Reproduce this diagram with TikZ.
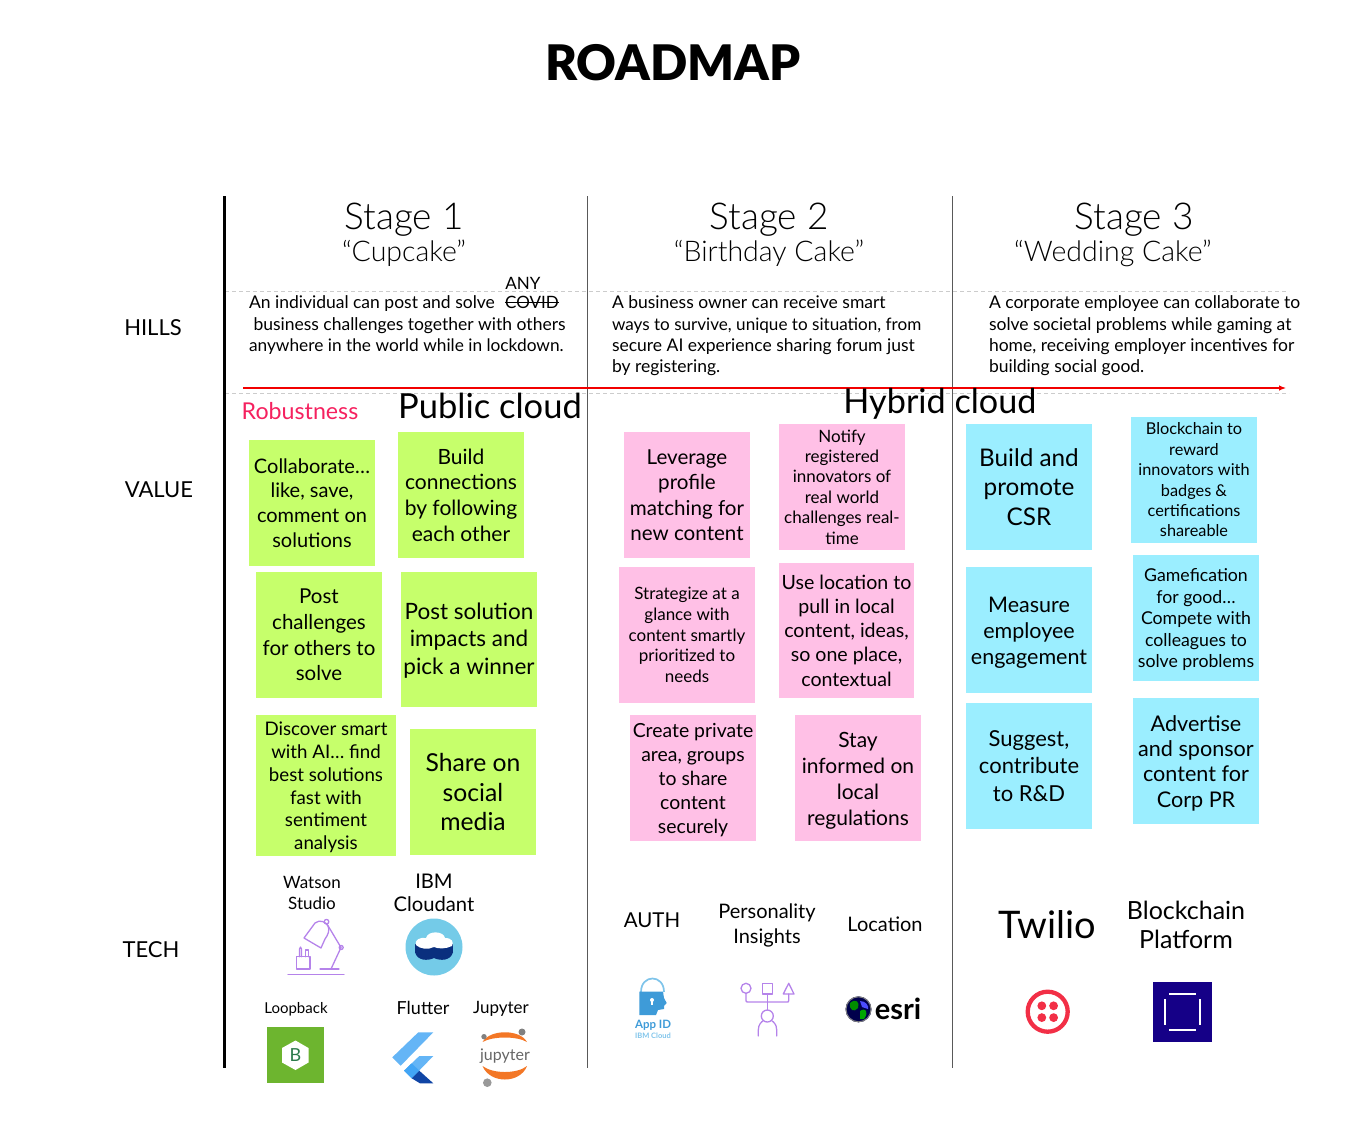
\documentclass[tikz,border=0pt]{standalone}
\usepackage{fontspec}
\setmainfont{Lato}
\newfontfamily\lightf{Lato Light}
\newfontfamily\blackf{Lato Black}
\usetikzlibrary{arrows.meta}
\definecolor{gr}{HTML}{C6FF6B}
\definecolor{pk}{HTML}{FFC0E6}
\definecolor{bl}{HTML}{9BEEFF}
\definecolor{purp}{HTML}{B583EA}
\definecolor{rob}{HTML}{F5215F}
\definecolor{cloudc}{HTML}{74CBE8}
\definecolor{navy}{HTML}{0A2F7E}
\definecolor{lbg}{HTML}{6DB52F}
\definecolor{lbd}{HTML}{2B7A4B}
\definecolor{fl1}{HTML}{64B5F6}
\definecolor{fl2}{HTML}{42A5F5}
\definecolor{fl3}{HTML}{1045A5}
\definecolor{jor}{HTML}{F37726}
\definecolor{appb}{HTML}{3E9BD8}
\definecolor{appl}{HTML}{7FC4EA}
\definecolor{twr}{HTML}{F22F46}
\definecolor{bc}{HTML}{150087}
\newcommand{\fs}[1]{\fontsize{#1}{#1}\selectfont}
\def\sdy{0}
\newcommand{\stick}[9]{\path[fill=#6] (#2,#3) rectangle (#4,#5);
  \node[txt,font=\fontsize{#7}{#8}\selectfont,align=center] (#1) at ({(#2+#4)/2},{(#3+#5)/2+\sdy}) {#9};}
\tikzset{txt/.style={inner sep=0pt,outer sep=0pt,text=black},
  sepline/.style={draw=black!65,line width=1pt},
  dashline/.style={draw=black!20,line width=.7pt,dash pattern=on 4pt off 3pt},
  hill/.style={txt,anchor=base west,font=\fs{17.5},align=left},
  icon/.style={draw=purp,line width=1.3pt,line cap=round,line join=round}}
\begin{document}
\begin{tikzpicture}[x=1pt,y=-1pt]
\useasboundingbox (0,0) rectangle (1354,1140);
\node[txt,font=\blackf\fs{49}] (title) at (673,63) {ROADMAP};
% structure
\coordinate (a1) at (224.3,196); \coordinate (a2) at (224.3,1068);
\coordinate (b1) at (587,196); \coordinate (b2) at (587,1068);
\coordinate (c1) at (952,196); \coordinate (c2) at (952,1068);
\coordinate (d1) at (225,291); \coordinate (d2) at (1289,291);
\coordinate (e1) at (225,393); \coordinate (e2) at (1289,393);
\coordinate (r1) at (243,388); \coordinate (r2) at (1286,388);
\draw[dashline] (d1)--(d2); \draw[dashline] (e1)--(e2);
\draw[black,line width=3.6pt] (a1)--(a2);
\draw[sepline] (b1)--(b2); \draw[sepline] (c1)--(c2);
\draw[red!95!black,line width=1.1pt,-{Latex[length=7pt,width=5.5pt]}] (r1)--(r2);
% left labels
\node[txt,font=\fs{22}] (hills) at (153,328) {HILLS};
\node[txt,font=\fs{22}] (value) at (159,490) {VALUE};
\node[txt,font=\fs{22}] (tech) at (151,950) {TECH};
% stages
\node[txt,font=\lightf\fs{37}] (s1) at (404,220) {Stage 1};
\node[txt,font=\lightf\fs{28.5}] (s1b) at (404,253) {“Cupcake”};
\node[txt,font=\lightf\fs{37}] (s2) at (769,220) {Stage 2};
\node[txt,font=\lightf\fs{28.5}] (s2b) at (769,253) {“Birthday Cake”};
\node[txt,font=\lightf\fs{37}] (s3) at (1134,220) {Stage 3};
\node[txt,font=\lightf\fs{28.5}] (s3b) at (1113,253) {“Wedding Cake”};
% hills
\node[hill] (h1a) at (249,308.5) {An individual can post and solve};
\node[txt,font=\fs{17}] (any) at (523,283) {ANY};
\node[txt,font=\fs{17}] (covid) at (532,302.5) {COVID};
\draw[line width=.8pt] (covid.west)--(covid.east);
\node[hill] (h1b) at (253.5,330) {business challenges together with others};
\node[hill,font=\fs{17.3}] (h1c) at (249,351) {anywhere in the world while in lockdown.};
\node[hill] (h2a) at (612,308.5) {A business owner can receive smart};
\node[hill,font=\fs{17.1}] (h2b) at (612,330) {ways to survive, unique to situation, from};
\node[hill] (h2c) at (612,351) {secure AI experience sharing forum just};
\node[hill] (h2d) at (612,372) {by registering.};
\node[hill] (h3a) at (989,308.5) {A corporate employee can collaborate to};
\node[hill] (h3b) at (989,330) {solve societal problems while gaming at};
\node[hill] (h3c) at (989,351) {home, receiving employer incentives for};
\node[hill] (h3d) at (989,372) {building social good.};
% value headers
\node[txt,font=\fs{23.2},text=rob] (robust) at (300,411) {Robustness};
\node[txt,font=\fs{34.5}] (pub) at (490,405.5) {Public cloud};
\node[txt,font=\fs{34.2}] (hyb) at (940,404) {Hybrid cloud};
% stickies
\stick{g1}{249}{440}{375}{566}{gr}{20}{24.8}{Collaborate…\\like, save,\\comment on\\solutions}
\stick{g2}{398}{432}{524}{558}{gr}{21}{25.7}{Build\\connections\\by following\\each other}
\stick{g3}{256}{572}{382}{698}{gr}{20.5}{25.7}{Post\\challenges\\for others to\\solve}
\def\sdy{1}
\stick{g4}{401}{572}{537}{707}{gr}{22.5}{27.5}{Post solution\\impacts and\\pick a winner}
\def\sdy{2}
\stick{g5}{256}{715}{396}{856}{gr}{18.7}{22.8}{Discover smart\\with AI… find\\best solutions\\fast with\\sentiment\\analysis}
\def\sdy{0}
\stick{g6}{410}{729}{536}{855}{gr}{24.7}{29.5}{Share on\\social\\media}
\stick{p1}{624}{432}{750}{558}{pk}{20.6}{25.5}{Leverage\\profile\\matching for\\new content}
\stick{p2}{779}{424}{905}{550}{pk}{17}{20.4}{Notify\\registered\\innovators of\\real world\\challenges real-\\time}
\stick{p3}{619}{567}{755}{703}{pk}{17}{20.8}{Strategize at a\\glance with\\content smartly\\prioritized to\\needs}
\stick{p4}{779}{563}{914}{698}{pk}{19.6}{24.2}{Use location to\\pull in local\\content, ideas,\\so one place,\\contextual}
\def\sdy{2}
\stick{p5}{630}{715}{756}{841}{pk}{19.4}{24}{Create private\\area, groups\\to share\\content\\securely}
\def\sdy{2.5}
\stick{p6}{795}{715}{921}{841}{pk}{21}{26}{Stay\\informed on\\local\\regulations}
\def\sdy{0}
\stick{b1a}{966}{424}{1092}{550}{bl}{24.3}{29.5}{Build and\\promote\\CSR}
\stick{b2a}{1131}{417}{1257}{543}{bl}{16.3}{20.4}{Blockchain to\\reward\\innovators with\\badges \&\\certifications\\shareable}
\def\sdy{3}
\stick{b3a}{966}{567}{1092}{693}{bl}{21.5}{26}{Measure\\employee\\engagement}
\def\sdy{2}
\stick{b4a}{1133}{555}{1259}{681}{bl}{17.7}{21.5}{Gamefication\\for good…\\Compete with\\colleagues to\\solve problems}
\def\sdy{0}
\stick{b5a}{966}{703}{1092}{829}{bl}{22}{27.5}{Suggest,\\contribute\\to R\&D}
\def\sdy{2}
\stick{b6a}{1133}{698}{1259}{824}{bl}{21.6}{25.4}{Advertise\\and sponsor\\content for\\Corp PR}
\def\sdy{0}
% tech labels
\node[txt,font=\fontsize{17}{20.5}\selectfont,align=center] (t1) at (312,893) {Watson\\Studio};
\node[txt,font=\fontsize{20.2}{23.5}\selectfont,align=center] (t2) at (434,893) {IBM\\Cloudant};
\node[txt,font=\fs{15}] (t3) at (296,1009) {Loopback};
\node[txt,font=\fs{18}] (t4) at (423,1008) {Flutter};
\node[txt,font=\fs{17}] (t5) at (501,1008.5) {Jupyter};
\node[txt,font=\fs{20.5}] (t6) at (652,920) {AUTH};
\node[txt,font=\fontsize{20}{25}\selectfont,align=center] (t7) at (767,925) {Personality\\Insights};
\node[txt,font=\fs{20}] (t8) at (885,924) {Location};
\node[txt,font=\fs{38}] (t9) at (1047,925) {Twilio};
\node[txt,font=\fontsize{25}{29.5}\selectfont,align=center] (t10) at (1186,925) {Blockchain\\Platform};
% Watson icon
\draw[icon] (288,974.3)--(344,974.3);
\draw[icon] (296.7,956.7) rectangle (310,969);
\draw[icon] (299.5,956.7)--(299.5,949)--(300.5,947)--(301.5,949)--(301.5,956.7);
\draw[icon] (305.5,956.7)--(305.5,950)--(308.5,950)--(308.5,956.7);
\draw[icon] (320,969)--(339,969);
\draw[icon] (331,969)--(341,947.5);
\draw[icon] (341,947.5)--(327,924);
\draw[icon] (326.5,921.7) circle (2.3);
\draw[icon] (341.2,947.5) circle (2);
\draw[icon] (304,938)--(315,923)..controls(320,919)and(326,922)..(328,926)..controls(330,930)and(328,935)..(325,939)--(321,948)--(304,938);
% Cloudant icon
\fill[cloudc] (434,947) circle (28.5);
\fill[navy] (415,944) rectangle (453,953);
\fill[navy] (415,952) .. controls (417,961) and (428,961) .. (434,958) .. controls (440,961) and (451,961) .. (453,952) -- cycle;
\fill[white] (416,945) .. controls (414,940) and (420,937) .. (426,938) .. controls (428,930) and (444,931) .. (445,938) .. controls (452,938) and (454,942) .. (452,946) .. controls (446,949) and (438,949) .. (434,947) .. controls (428,950) and (420,949) .. (416,945) -- cycle;
% Loopback icon
\fill[lbg] (267,1027) rectangle (323.5,1083);
\fill[white] (295.5,1040.5)--(308.5,1048)--(308.5,1062.5)--(295.5,1070)--(282,1062.5)--(282,1048)--cycle;
\node[txt,font=\fs{18},text=lbd] (lb) at (295.5,1055) {B};
% Flutter icon
\fill[fl1] (433.3,1032.3)--(418.3,1032.3)--(392.3,1057.3)--(400.7,1065.7)--cycle;
\fill[fl1] (433.3,1056)--(419.3,1056)--(404,1070.7)--(411.7,1078.3)--cycle;
\fill[fl2] (411.7,1078.3)--(404,1070.7)--(411.7,1063.3)--(419.3,1070.7)--cycle;
\fill[fl3] (411.7,1078.3)--(419.3,1070.7)--(433.3,1083.3)--(420,1083.3)--cycle;
% Jupyter icon
\fill[jor] (482.5,1042) .. controls (490,1029) and (520,1029) .. (527,1042) .. controls (517,1036) and (493,1036) .. (482.5,1042) -- cycle;
\fill[jor] (482.5,1066) .. controls (490,1084) and (520,1084) .. (527,1066) .. controls (517,1074) and (493,1074) .. (482.5,1066) -- cycle;
\fill[gray] (484,1036.7) circle (2.7) (522,1032) circle (3.5);
\fill[gray!80] (487.3,1082.7) circle (4.3);
\node[txt,font=\fs{16},text=black!60] (jp) at (505,1056) {jupyter};
% App ID icon
\draw[appl,line width=1.7pt] (641,992) .. controls (641,974) and (664,974) .. (664,992);
\fill[appb] (639.3,991.7)--(663,991.7)--(664,998)--(666.7,1003)--(664,1006)--(664,1009)--(658,1010)--(656,1015)--(639.3,1015)--cycle;
\fill[white] (652,1000) circle (2);
\fill[white] (651.2,1000) rectangle (652.8,1005);
\node[txt,font=\bfseries\fs{11.5},text=appb] (app) at (653,1025.5) {App ID};
\node[txt,font=\bfseries\fs{7.5},text=appl] (ibm) at (653,1036) {IBM Cloud};
% Personality icon
\draw[icon] (746,988.3) circle (5);
\draw[icon] (762.3,983.3) rectangle (772.7,994);
\draw[icon] (788.7,983.3)--(783.3,994)--(794,994)--cycle;
\draw[icon] (746,993.3)--(746,1000)..controls(746,1002)..(748,1002)--(787,1002)..controls(788.7,1002)..(788.7,1000)--(788.7,994);
\draw[icon] (767.5,994)--(767.5,1010);
\draw[icon] (767.3,1016) circle (6);
\draw[icon] (758.3,1036)--(758.3,1030)..controls(758.3,1024)and(762,1021.5)..(763,1021)
 (776.7,1036)--(776.7,1030)..controls(776.7,1024)and(773,1021.5)..(772,1021);
% esri icon
\fill[black!70!blue] (858.5,1009.3) circle (13);
\fill[green!55!black] (850,1003) .. controls (856,998) and (860,1002) .. (858,1008) .. controls (854,1013) and (849,1010) .. (850,1003) -- cycle;
\fill[green!65!black] (860,1011) .. controls (866,1007) and (869,1012) .. (864,1019) -- (860,1019) -- cycle;
\fill[blue!70!white] (860,1001) .. controls (866,1001) and (869,1006) .. (868,1009) -- (862,1007) -- cycle;
\draw[black!50,line width=1pt] (858.5,1009.3) circle (12.5);
\node[txt,font=\bfseries\fs{29}] (esri) at (898,1009) {esri};
% Twilio icon
\draw[draw=twr,line width=4.3pt] (1047.7,1011.7) circle (20);
\fill[twr] (1041.8,1005.8) circle (4.4) (1053.6,1005.8) circle (4.4) (1041.8,1017.6) circle (4.4) (1053.6,1017.6) circle (4.4);
% Blockchain icon
\fill[bc] (1152.7,982.3) rectangle (1212.3,1041.7);
\draw[white,line width=2pt] (1169,994.3)--(1195.7,994.3) (1169,1030)--(1195.7,1030) (1164.7,999)--(1164.7,1025) (1200,999)--(1200,1025);
\end{tikzpicture}
\end{document}
